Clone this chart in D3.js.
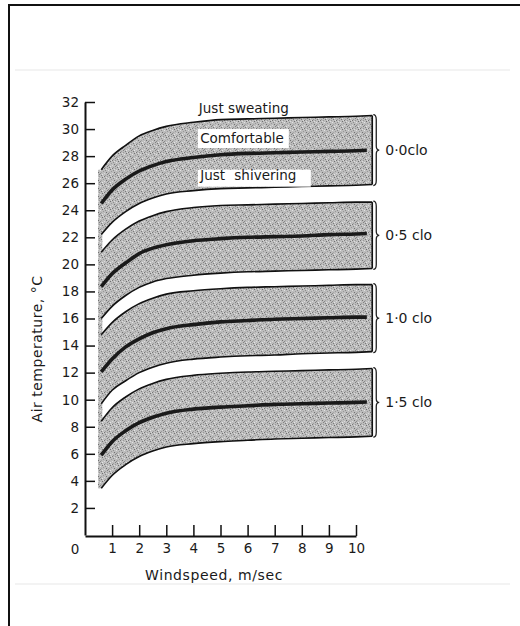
<!DOCTYPE html>
<html>
<head>
<meta charset="utf-8">
<script src="https://cdn.jsdelivr.net/npm/d3@7"></script>
<style>
  body { margin: 0; background: #fff; }
  text { font-family: "DejaVu Sans", sans-serif; fill: #1a1a1a; }
</style>
</head>
<body>
<script>
// windspeed points (m/sec) where the curves were read
var windspeed = [0.6, 1, 1.5, 2, 2.5, 3, 4, 5, 6, 7, 8, 9, 10, 10.6];

// clothing bands: upper = just sweating, mid = comfortable, lower = just shivering
var cloLabels = ["0·0clo", "0·5 clo", "1·0 clo", "1·5 clo"];
var upper = [
  [27.0, 28.0, 28.8, 29.5, 29.9, 30.2, 30.5, 30.7, 30.75, 30.8, 30.85, 30.9, 30.95, 31.0],
  [20.9, 21.8, 22.6, 23.2, 23.6, 23.9, 24.2, 24.35, 24.4, 24.45, 24.5, 24.55, 24.6, 24.6],
  [14.8, 15.7, 16.5, 17.1, 17.5, 17.8, 18.05, 18.2, 18.3, 18.35, 18.4, 18.45, 18.5, 18.5],
  [8.4, 9.4, 10.2, 10.8, 11.2, 11.5, 11.8, 11.95, 12.05, 12.1, 12.15, 12.2, 12.25, 12.3]
];
var mid = [
  [24.5, 25.5, 26.3, 26.9, 27.3, 27.6, 27.9, 28.1, 28.2, 28.25, 28.3, 28.35, 28.4, 28.45],
  [18.35, 19.3, 20.1, 20.8, 21.2, 21.45, 21.75, 21.9, 22.0, 22.05, 22.1, 22.2, 22.25, 22.3],
  [12.05, 13.0, 13.9, 14.5, 14.95, 15.25, 15.55, 15.75, 15.85, 15.95, 16.0, 16.05, 16.1, 16.1],
  [5.9, 6.9, 7.7, 8.3, 8.7, 9.0, 9.3, 9.45, 9.55, 9.65, 9.7, 9.75, 9.8, 9.85]
];
var lower = [
  [22.2, 23.1, 23.9, 24.5, 24.9, 25.2, 25.45, 25.6, 25.65, 25.7, 25.75, 25.8, 25.85, 25.9],
  [16.0, 16.9, 17.7, 18.3, 18.7, 18.95, 19.2, 19.35, 19.45, 19.5, 19.55, 19.6, 19.65, 19.7],
  [9.7, 10.7, 11.4, 12.0, 12.4, 12.7, 13.0, 13.15, 13.25, 13.3, 13.4, 13.45, 13.5, 13.55],
  [3.45, 4.4, 5.2, 5.8, 6.2, 6.5, 6.75, 6.9, 7.0, 7.1, 7.15, 7.2, 7.25, 7.3]
];

var xTicks = [1, 2, 3, 4, 5, 6, 7, 8, 9, 10];
var yTicks = [2, 4, 6, 8, 10, 12, 14, 16, 18, 20, 22, 24, 26, 28, 30, 32];

var W = 520, H = 626;
var x = d3.scaleLinear().domain([0, 10]).range([85, 356]);
var y = d3.scaleLinear().domain([0, 32]).range([535, 102]);

var svg = d3.select("body").append("svg")
    .attr("width", W)
    .attr("height", H);

// scanned page frame
svg.append("rect").attr("width", W).attr("height", H).attr("fill", "#fff");
svg.append("line").attr("x1", 15).attr("x2", 510).attr("y1", 70).attr("y2", 70)
    .attr("stroke", "#f3f3f3").attr("stroke-width", 2);
svg.append("line").attr("x1", 15).attr("x2", 510).attr("y1", 584).attr("y2", 584)
    .attr("stroke", "#f3f3f3").attr("stroke-width", 2);
svg.append("path").attr("d", "M9,626V5H520")
    .attr("fill", "none").attr("stroke", "#111").attr("stroke-width", 2);

// halftone stipple
var defs = svg.append("defs");
var pat = defs.append("pattern").attr("id", "stip")
    .attr("width", 8).attr("height", 8).attr("patternUnits", "userSpaceOnUse");
pat.append("rect").attr("width", 8).attr("height", 8).attr("fill", "#bdbdbd");
[[0, 0, "#777"], [3, 0, "#999"], [6, 1, "#6f6f6f"], [1, 2, "#8c8c8c"], [4, 2, "#e2e2e2"],
 [7, 3, "#999"], [2, 4, "#727272"], [5, 4, "#a4a4a4"], [0, 5, "#dadada"], [3, 6, "#828282"],
 [6, 6, "#e6e6e6"], [1, 7, "#9c9c9c"], [5, 7, "#7a7a7a"], [7, 0, "#d8d8d8"], [2, 1, "#dcdcdc"],
 [4, 5, "#888"]]
  .forEach(function(p) {
    pat.append("rect").attr("x", p[0]).attr("y", p[1]).attr("width", 1).attr("height", 1).attr("fill", p[2]);
  });

defs.append("clipPath").attr("id", "midclip")
  .append("rect").attr("x", 0).attr("y", 0).attr("width", x(10.4)).attr("height", H);

var area = d3.area()
    .x(function(d) { return x(d.w); })
    .y0(function(d) { return y(d.lo); })
    .y1(function(d) { return y(d.hi); })
    .curve(d3.curveMonotoneX);

var line = d3.line()
    .x(function(d) { return x(d.w); })
    .y(function(d) { return y(d.v); })
    .curve(d3.curveMonotoneX);

// grey strip on the left edge joining the bands
svg.append("rect")
    .attr("x", x(0.48)).attr("width", x(0.64) - x(0.48))
    .attr("y", y(upper[0][0])).attr("height", y(lower[3][0]) - y(upper[0][0]))
    .attr("fill", "url(#stip)");

var last = windspeed.length - 1;
cloLabels.forEach(function(lab, i) {
  var pts = windspeed.map(function(w, j) {
    return { w: w, hi: upper[i][j], lo: lower[i][j] };
  });
  var g = svg.append("g");
  g.append("path").datum(pts).attr("d", area).attr("fill", "url(#stip)");
  g.append("path")
      .datum(windspeed.map(function(w, j) { return { w: w, v: upper[i][j] }; }))
      .attr("d", line).attr("fill", "none").attr("stroke", "#111").attr("stroke-width", 1.6);
  g.append("path")
      .datum(windspeed.map(function(w, j) { return { w: w, v: lower[i][j] }; }))
      .attr("d", line).attr("fill", "none").attr("stroke", "#111").attr("stroke-width", 1.6);
  g.append("path")
      .datum(windspeed.map(function(w, j) { return { w: w, v: mid[i][j] }; }))
      .attr("d", line).attr("fill", "none").attr("stroke", "#1a1a1a").attr("stroke-width", 3.6)
      .attr("clip-path", "url(#midclip)");
  // right edge
  var xr = x(windspeed[last]), yt = y(upper[i][last]), yb = y(lower[i][last]), ym = (yt + yb) / 2;
  g.append("line").attr("x1", xr).attr("x2", xr).attr("y1", yt).attr("y2", yb)
      .attr("stroke", "#111").attr("stroke-width", 1.6);
  // brace
  var b = xr + 1;
  g.append("path")
      .attr("d", "M" + b + "," + (yt - 1) + "Q" + (b + 3) + "," + (yt - 1) + " " + (b + 3) + "," + (yt + 4) +
            "V" + (ym - 4) + "Q" + (b + 3) + "," + ym + " " + (b + 6) + "," + ym +
            "Q" + (b + 3) + "," + ym + " " + (b + 3) + "," + (ym + 4) +
            "V" + (yb - 4) + "Q" + (b + 3) + "," + (yb + 1) + " " + b + "," + (yb + 1))
      .attr("fill", "none").attr("stroke", "#222").attr("stroke-width", 1.3);
  g.append("text")
      .attr("x", b + 12).attr("y", ym).attr("dy", "0.35em")
      .attr("font-size", 14)
      .text(lab);
});

// band annotations
svg.append("text").attr("x", x(4.2)).attr("y", y(31.2))
    .attr("font-size", 13.5).text("Just sweating");
svg.append("rect").attr("x", x(4.2) - 1).attr("y", y(30.0)).attr("width", 91).attr("height", 19)
    .attr("fill", "#fff");
svg.append("text").attr("x", x(4.25)).attr("y", y(29.0))
    .attr("font-size", 13.5).text("Comfortable");
svg.append("rect").attr("x", x(4.2) - 1).attr("y", y(27.0)).attr("width", 113).attr("height", 17)
    .attr("fill", "#fff");
svg.append("text").attr("x", x(4.25)).attr("y", y(26.25))
    .attr("font-size", 13.5).attr("word-spacing", 5).text("Just shivering");

// axes
var yAxis = svg.append("g")
    .attr("transform", "translate(" + x(0) + ",0)")
    .call(d3.axisLeft(y).tickValues(yTicks).tickSizeInner(-10).tickSizeOuter(0).tickPadding(6));
var xAxis = svg.append("g")
    .attr("transform", "translate(0," + (y(0) + 1) + ")")
    .call(d3.axisBottom(x).tickValues(xTicks).tickSizeInner(-11).tickSizeOuter(0).tickPadding(7));
[yAxis, xAxis].forEach(function(a) {
  a.select(".domain").attr("stroke", "#111").attr("stroke-width", 2);
  a.selectAll(".tick line").attr("stroke", "#111").attr("stroke-width", 1.5);
  a.selectAll(".tick text").attr("font-size", 13.5).attr("font-family", "DejaVu Sans").attr("fill", "#1a1a1a");
});

svg.append("text").attr("x", x(0) - 10).attr("y", y(0) + 19)
    .attr("font-size", 13.5).attr("text-anchor", "middle").text("0");

svg.append("text")
    .attr("x", 214).attr("y", 580)
    .attr("text-anchor", "middle").attr("font-size", 14)
    .attr("letter-spacing", 0.6)
    .text("Windspeed,  m/sec");

svg.append("text")
    .attr("transform", "translate(42,349) rotate(-90)")
    .attr("text-anchor", "middle").attr("font-size", 14)
    .attr("letter-spacing", 0.5)
    .text("Air  temperature,  °C");
</script>
</body>
</html>
